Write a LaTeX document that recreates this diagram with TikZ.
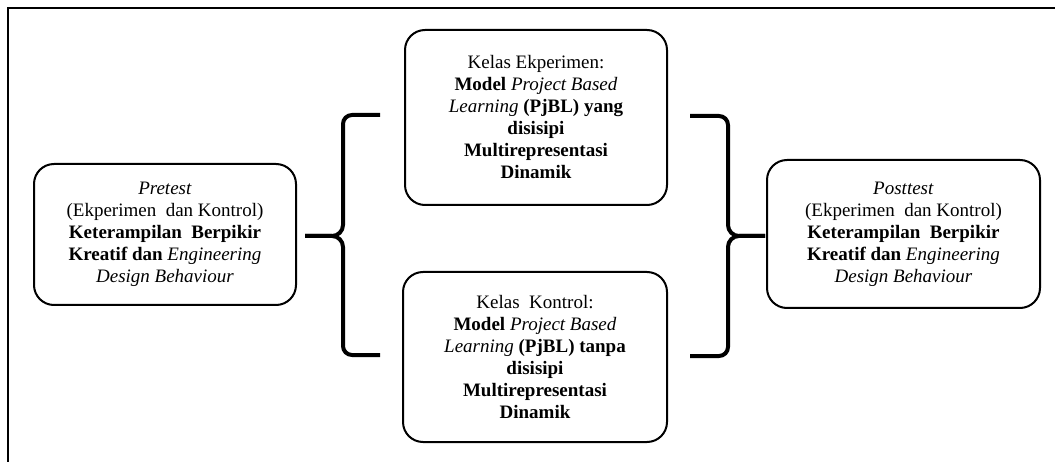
\documentclass[tikz,border=0pt]{standalone}
\usepackage{fontspec}
\setmainfont{Liberation Serif}
\tikzset{
  box/.style={draw=black, line width=2pt, rounded corners=20pt, fill=white, inner sep=0pt},
  txt/.style={align=center, font=\fontsize{19}{22}\selectfont, inner sep=0pt},
  brace/.style={draw=black, line width=4pt, line cap=butt, line join=round},
  frame/.style={draw=black, line width=2.5pt}
}
\begin{document}
\begin{tikzpicture}[x=1pt,y=-1pt]
\useasboundingbox (0,0) rectangle (1055,462);
% outer frame (left and top edges)
\coordinate (fbl) at (8,462);
\coordinate (ftl) at (8,8);
\coordinate (ftr) at (1055,8);
\draw[frame] (fbl) -- (ftl) -- (ftr);
% boxes
\node[box, minimum width=262pt, minimum height=141pt] (pre) at (165,234.5) {};
\node[txt] (pretxt) at (pre.center) {\textit{Pretest}\\(Ekperimen\ \ dan Kontrol)\\\textbf{Keterampilan\ \ Berpikir}\\\textbf{Kreatif\ dan} \textit{Engineering}\\\textit{Design Behaviour}};
\node[box, minimum width=262pt, minimum height=175pt] (exp) at (536,117.5) {};
\node[txt] (exptxt) at (exp.center) {Kelas Ekperimen:\\\textbf{Model} \textit{Project Based}\\\textit{Learning} \textbf{(PjBL) yang}\\\textbf{disisipi}\\\textbf{Multirepresentasi}\\\textbf{Dinamik}};
\node[box, minimum width=264pt, minimum height=170pt] (ctl) at (535,357) {};
\node[txt] (ctltxt) at (ctl.center) {Kelas\ \ Kontrol:\\\textbf{Model} \textit{Project Based}\\\textit{Learning} \textbf{(PjBL) tanpa}\\\textbf{disisipi}\\\textbf{Multirepresentasi}\\\textbf{Dinamik}};
\node[box, minimum width=273pt, minimum height=148pt] (post) at (903.5,234) {};
\node[txt] (posttxt) at (post.center) {\textit{Posttest}\\(Ekperimen\ \ dan Kontrol)\\\textbf{Keterampilan\ \ Berpikir}\\\textbf{Kreatif\ dan} \textit{Engineering}\\\textit{Design Behaviour}};
% left brace
\coordinate (lt) at (380,115);
\coordinate (lb) at (380,355);
\coordinate (lm) at (305,236);
\draw[brace] (lt) -- (352,115) to[out=180,in=90] (343,124) -- (343,225)
  to[out=-90,in=0] (332,236) -- (lm);
\draw[brace] (lm) -- (332,236) to[out=0,in=90] (343,247) -- (343,346)
  to[out=-90,in=180] (352,355) -- (lb);
% right brace
\coordinate (rt) at (690,116);
\coordinate (rb) at (690,356);
\coordinate (rm) at (765,236);
\draw[brace] (rt) -- (719,116) to[out=0,in=90] (728,125) -- (728,225)
  to[out=-90,in=180] (739,236) -- (rm);
\draw[brace] (rm) -- (739,236) to[out=180,in=90] (728,247) -- (728,347)
  to[out=-90,in=0] (719,356) -- (rb);
\end{tikzpicture}
\end{document}
